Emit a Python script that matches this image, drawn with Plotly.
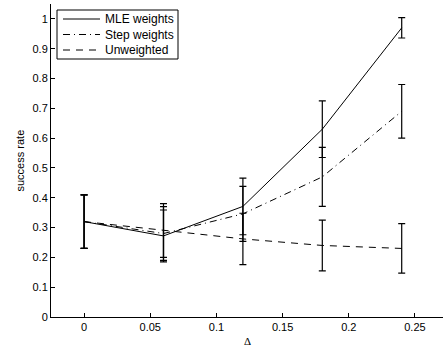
import plotly.graph_objects as go

delta = [0, 0.06, 0.12, 0.18, 0.24]
mle = [0.32, 0.272, 0.371, 0.63, 0.97]
mle_err = [0.09, 0.087, 0.095, 0.095, 0.034]
step = [0.32, 0.28, 0.346, 0.47, 0.69]
step_err = [0.09, 0.09, 0.092, 0.099, 0.09]
unw = [0.32, 0.29, 0.262, 0.24, 0.23]
unw_err = [0.09, 0.09, 0.086, 0.085, 0.083]
legend_names = ["MLE weights", "Step weights", "Unweighted"]

dashes = ["solid", "7px,4px,1px,4px", "7px,6px"]
series = list(zip(legend_names, [mle, step, unw], [mle_err, step_err, unw_err], dashes))

fig = go.Figure()
for name, vals, errs, dash in series:
    fig.add_trace(go.Scatter(
        x=delta, y=vals, mode="lines", name=name, showlegend=False,
        line=dict(color="black", width=1, dash=dash),
        error_y=dict(type="data", array=errs, visible=True,
                     color="black", thickness=1.2, width=3.5),
    ))

# plot-area geometry (pixels) for the hand-drawn legend box
L, T, W, H = 51, 4, 392, 313
def px(x):
    return (x - L) / W
def py(y):
    return (T + H - y) / H

SANS = "Arial, Liberation Sans, sans-serif"
font_axis = dict(family=SANS, size=11, color="black")

shapes = [dict(type="rect", xref="paper", yref="paper", x0=px(57), x1=px(178), y0=py(59), y1=py(10),
               line=dict(color="black", width=1), fillcolor="white", layer="above")]
annotations = []
rows = [19, 34.5, 50]
for (name, _, _, dash), ry in zip(series, rows):
    shapes.append(dict(type="line", xref="paper", yref="paper", x0=px(63), x1=px(100), y0=py(ry), y1=py(ry),
                       line=dict(color="black", width=1, dash=dash), layer="above"))
    annotations.append(dict(text=name, xref="paper", yref="paper", x=px(103), y=py(ry),
                            xanchor="left", yanchor="middle", showarrow=False,
                            font=dict(family=SANS, size=12, color="black")))

annotations += [
    dict(text="Δ", xref="paper", yref="paper", x=0.5, y=-0.077, xanchor="center", yanchor="middle",
         showarrow=False, font=dict(family="Liberation Serif, Times New Roman, serif", size=11, color="black")),
    dict(text="success rate", xref="paper", yref="paper", x=px(19), y=0.5, xanchor="center", yanchor="middle",
         textangle=-90, showarrow=False, font=font_axis),
]

fig.update_layout(
    width=443, height=347,
    margin=dict(l=L, r=0, t=T, b=347 - T - H),
    paper_bgcolor="white", plot_bgcolor="white",
    showlegend=False,
    xaxis=dict(range=[-0.025, 0.2712], tickvals=[0, 0.05, 0.1, 0.15, 0.2, 0.25],
               ticktext=["0", "0.05", "0.1", "0.15", "0.2", "0.25"],
               showline=True, linecolor="black", linewidth=1, mirror=False,
               ticks="inside", ticklen=4, tickcolor="black", automargin=False,
               showgrid=False, zeroline=False, tickfont=font_axis),
    yaxis=dict(range=[0, 1.05], tickvals=[0, 0.1, 0.2, 0.3, 0.4, 0.5, 0.6, 0.7, 0.8, 0.9, 1],
               ticktext=["0", "0.1", "0.2", "0.3", "0.4", "0.5", "0.6", "0.7", "0.8", "0.9", "1"],
               showline=True, linecolor="black", linewidth=1, mirror=False,
               ticks="inside", ticklen=4, tickcolor="black", automargin=False,
               showgrid=False, zeroline=False, tickfont=font_axis),
    shapes=shapes,
    annotations=annotations,
)

fig.write_html("out.html", config={"displayModeBar": False},
               post_script="document.body.style.margin='0';document.body.style.padding='0';")
